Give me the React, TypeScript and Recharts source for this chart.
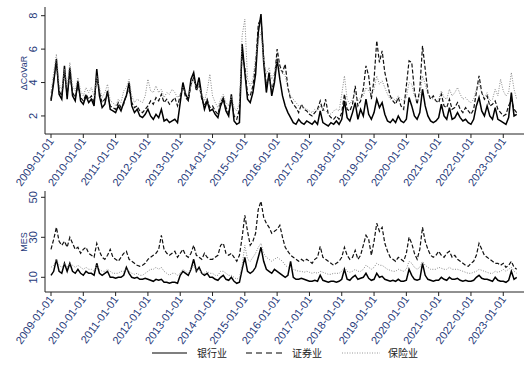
import { LineChart, Line, XAxis, YAxis } from "recharts"

// monthly samples, 2009-01 .. 2023-06
const startYear = 2009
const nMonths = 174

const cvBank = [
  2.9, 4.0, 5.4, 3.3, 3.0, 5.0, 3.0, 4.9, 3.2, 2.9, 4.1, 2.9,
  2.7, 3.2, 2.8, 3.0, 2.6, 4.8, 3.2, 2.5, 2.7, 3.5, 2.4, 2.3,
  2.2, 2.6, 2.3, 2.8, 3.2, 4.0, 2.6, 2.2, 2.4, 2.0, 1.9, 2.1,
  2.4, 2.0, 1.8, 2.1, 1.9, 2.4, 1.7, 1.8, 1.6, 1.7, 1.8, 1.6,
  2.8, 4.0, 3.3, 3.0, 4.2, 4.6, 3.6, 4.3, 3.2, 2.4, 2.9, 2.3,
  2.4, 2.1, 1.9, 2.6, 3.0, 2.3, 2.0, 3.3, 1.7, 1.5, 1.6, 6.3,
  4.6, 3.0, 2.8, 3.4, 4.5, 7.0, 8.1, 5.2, 3.4, 4.6, 3.2, 4.0,
  5.4, 4.2, 3.2, 2.6, 2.2, 1.9, 1.6, 1.5, 1.8, 1.6, 1.5, 1.7,
  1.6, 1.5, 1.7, 1.5, 2.3, 1.6, 1.5, 1.4, 1.6, 1.5, 1.7, 1.5,
  1.8, 2.9, 1.9, 1.7, 2.2, 2.8, 1.8, 2.4, 2.0, 3.0, 2.1, 1.8,
  2.2, 3.0, 2.5, 2.8, 2.1, 1.7, 1.6, 1.8, 1.6, 2.0, 1.7, 1.6,
  1.8, 3.1, 2.6, 2.0, 1.8, 2.2, 3.6, 2.6, 2.0, 1.7, 1.6, 1.7,
  1.9, 2.7, 2.0, 1.8, 2.5, 1.8, 1.9, 2.2, 1.9, 1.7, 1.8, 1.6,
  1.5, 1.8, 2.6, 3.1, 2.3, 2.0, 2.6, 2.0, 1.8, 2.5, 1.8, 1.7,
  1.6, 1.5, 1.9, 3.4, 2.0, 2.1,
]

const cvSec = [
  3.0, 4.2, 5.2, 3.5, 3.2, 4.6, 3.3, 4.5, 3.4, 3.1, 3.8, 3.1,
  2.9, 3.3, 3.0, 3.2, 2.8, 4.4, 3.4, 2.8, 3.0, 3.3, 2.6, 2.5,
  2.4, 2.8, 2.5, 2.7, 3.3, 3.6, 2.8, 2.5, 2.6, 2.3, 2.2, 2.4,
  2.6, 2.9, 2.7, 3.1, 2.9, 3.3, 2.8, 3.0, 2.7, 2.9, 3.1, 2.6,
  3.2, 3.8, 3.1, 2.9, 3.9, 4.3, 3.5, 3.9, 3.0, 2.6, 3.0, 2.5,
  2.6, 2.3, 2.1, 2.8, 3.1, 2.5, 2.2, 3.0, 2.0, 1.8, 2.4, 5.8,
  4.9, 3.3, 3.2, 3.8, 5.0, 7.5, 7.8, 5.5, 3.8, 4.4, 3.5, 4.2,
  6.0, 5.0, 4.6, 5.1, 3.7, 3.0, 2.7, 2.5, 2.2, 2.7, 2.4, 2.3,
  2.1, 2.0, 2.2, 2.4, 2.9, 2.3, 3.0, 2.1, 1.9, 1.8, 2.0, 1.8,
  2.2, 3.3, 2.4, 2.3, 2.7, 3.8, 2.6, 2.9, 3.6, 5.0, 4.4, 3.0,
  4.2, 6.5, 5.2, 5.9, 4.6, 3.9, 3.2, 2.9, 2.7, 3.1, 2.6, 2.4,
  3.8, 5.3, 5.2, 3.5, 2.7, 3.6, 6.2, 4.8, 3.4, 3.0, 3.2, 2.9,
  2.8, 3.3, 2.6, 2.5, 3.0, 2.4, 2.5, 2.8, 2.4, 2.2, 2.5, 2.3,
  2.1, 2.4, 3.4, 4.4, 3.4, 3.0, 3.2, 2.6, 2.7, 2.9, 2.4, 2.2,
  2.0, 2.1, 2.6, 3.0, 2.4, 2.2,
]

const cvIns = [
  3.4, 4.6, 5.7, 3.9, 3.6, 4.8, 3.7, 5.2, 3.8, 3.5, 4.3, 3.5,
  3.2, 3.7, 3.4, 3.7, 3.2, 4.4, 3.7, 3.1, 3.4, 3.9, 2.9, 2.8,
  2.6, 3.0, 2.8, 3.5, 3.7, 4.2, 3.2, 2.8, 3.0, 2.9, 2.8, 3.2,
  4.2, 3.5, 3.4, 3.8, 3.4, 3.6, 3.1, 3.4, 3.3, 3.6, 3.4, 3.1,
  3.3, 3.7, 3.4, 3.1, 3.8, 4.2, 3.6, 3.8, 3.3, 2.9, 3.5, 4.5,
  3.2, 2.8, 2.5, 3.0, 3.3, 2.8, 2.6, 3.2, 2.5, 2.3, 2.8, 6.8,
  7.8, 4.2, 3.8, 4.2, 5.5, 6.5, 7.0, 5.3, 4.5, 4.9, 4.2, 4.6,
  5.5, 4.8, 4.6, 4.4, 3.6, 3.2, 3.0, 2.8, 2.6, 2.6, 2.5, 2.4,
  2.3, 2.2, 2.4, 2.3, 2.6, 2.4, 2.3, 2.2, 2.1, 2.3, 2.4, 2.3,
  3.3, 4.4, 3.0, 2.7, 3.0, 3.4, 2.9, 3.1, 3.2, 3.7, 3.5, 3.3,
  3.6, 4.4, 3.9, 4.1, 3.7, 3.3, 3.0, 3.1, 2.9, 3.2, 3.0, 2.9,
  3.1, 4.0, 3.9, 3.2, 2.9, 3.2, 4.4, 3.9, 3.3, 3.1, 3.0, 2.9,
  3.0, 3.5, 3.1, 3.0, 3.6, 3.2, 3.4, 3.7, 3.3, 3.0, 3.1, 2.9,
  2.8, 3.0, 3.6, 3.9, 3.4, 3.1, 3.4, 2.9, 3.0, 3.6, 3.2, 4.2,
  3.5, 3.2, 3.4, 4.6, 3.6, 3.0,
]

const mesBank = [
  11, 13, 19, 13, 12, 17, 13, 17, 13, 12, 14, 12,
  11, 13, 12, 12, 11, 17, 12, 11, 12, 13, 10, 10,
  9.5, 10, 10, 11, 15, 12, 10, 9.5, 10, 9, 9, 9.5,
  9, 8.5, 8, 9, 8.5, 9, 7.5, 7.5, 7, 7.5, 7.5, 7,
  11, 13, 12, 11, 14, 19, 13, 15, 12, 11, 12, 10,
  10, 9, 8.5, 10, 11, 9, 8.5, 10, 8, 7, 7.5, 14,
  20, 13, 12, 13, 15, 20, 25, 18, 14, 13, 12, 14,
  13, 12, 11, 10, 11, 18, 10, 9, 9, 9.5, 9, 8.5,
  8, 8, 8.5, 8, 11, 8.5, 8, 7.5, 8, 8, 7.5, 8,
  9, 14, 9, 8.5, 10, 11, 9, 9.5, 10, 12, 9.5, 8.5,
  9, 12, 10, 10.5, 9, 8.5, 8, 8.5, 8, 9, 8, 8,
  8.5, 14, 11, 9, 8.5, 9, 17, 11, 9, 8.5, 8, 8.5,
  8.5, 10, 9, 8.5, 10, 9, 9, 9.5, 8.5, 8, 8.5, 8,
  8, 8.5, 10, 11, 9.5, 9, 9, 8.5, 8, 10, 8.5, 8,
  8, 7.5, 8.5, 13, 9, 10,
]

const mesSec = [
  24, 29, 35, 28, 26, 28, 25, 30, 27, 24, 25, 22,
  24, 25, 22, 21, 20, 27, 23, 20, 19, 21, 24, 20,
  19, 18, 20, 22, 23, 19, 18, 17, 16, 15.5, 16, 17,
  19, 20, 21, 22, 24, 31, 24, 22, 21, 22, 23, 20,
  22, 24, 21, 20, 22, 26, 21, 20, 19, 22, 20, 19,
  19, 20, 21, 26, 27, 22, 21, 22, 20, 18, 21, 30,
  41, 33, 26, 28, 32, 44, 48, 40, 37, 35, 32, 33,
  34, 36, 30, 25, 23, 21, 20, 19, 18, 19, 18, 19,
  18, 17, 19, 20, 25.5, 20, 19, 18, 17, 16, 17, 18,
  20, 25, 21, 19, 20, 23.5, 19, 21, 26, 31, 29, 21,
  28, 37, 33, 35, 27, 23, 20, 19, 18, 20, 19, 18,
  22, 30, 27, 22, 19, 24, 35, 28, 24, 21, 20, 21,
  23, 21, 20, 22, 23, 20, 21, 19, 18, 17, 16, 15.5,
  17, 18, 21, 27, 24, 21, 20, 19, 18, 17, 17, 16,
  17, 15, 16, 18, 15, 14,
]

const mesIns = [
  15, 16, 19, 16, 15, 17, 15, 17, 16, 15, 16, 15,
  14, 15, 14, 14, 13, 16, 14, 13, 13, 14, 13, 12,
  12, 12, 13, 13, 14, 13, 12, 11.5, 12, 11, 11, 12,
  13, 14, 14, 15, 14, 15, 13, 12, 11, 12, 12, 11,
  12, 14, 13, 12, 14, 16, 13, 14, 12, 12, 13, 12,
  12, 11, 11, 13, 13, 12, 11, 11, 10, 9, 10, 16,
  26, 19, 18, 20, 22, 25, 27, 22, 20, 19, 18, 19,
  20, 19, 18, 16, 15, 15, 14, 13.5, 13, 13, 12.5, 13,
  12.5, 12, 12.5, 12, 13, 12.5, 12, 11.5, 11.5, 12, 12, 12,
  13, 15, 13, 12.5, 13, 14, 13, 13, 14, 16, 15, 14,
  15, 17, 16, 16, 15, 14, 13.5, 13, 13, 14, 13.5, 13,
  14, 18, 17, 15, 14, 15, 18, 16, 15, 14, 14, 14,
  15, 14.5, 14, 14, 15, 14, 14, 14, 13.5, 13, 12.5, 12,
  12, 12.5, 13, 14, 13.5, 13, 12.5, 12, 12, 13, 12.5, 13,
  14, 13, 14, 15, 13, 12,
]

const yearTicks = [0, 12, 24, 36, 48, 60, 72, 84, 96, 108, 120, 132, 144, 156, 168]
const cvTicks = [2, 4, 6, 8]
const mesTicks = [10, 20, 30, 40, 50]

const cvData = Array.from({ length: nMonths }, (_, t) => ({ t, bank: cvBank[t], sec: cvSec[t], ins: cvIns[t] }))
const mesData = Array.from({ length: nMonths }, (_, t) => ({ t, bank: mesBank[t], sec: mesSec[t], ins: mesIns[t] }))

const FONT = "'Liberation Sans', Arial, sans-serif"
const TXT = "#1f3a7a"
const AX = "#222"
const xDomain = [-2.23, 175.7]

const XTick = (props: any) => {
  const { x, y, payload } = props
  const label = `${startYear + payload.value / 12}-01-01`
  return (
    <text transform={`translate(${x},${y}) rotate(-54)`} textAnchor="end" dy={4} fontSize={11} fontFamily={FONT} fill={TXT}>
      {label}
    </text>
  )
}

const YTick = (props: any) => {
  const { x, y, payload } = props
  return (
    <text transform={`translate(${x - 2},${y}) rotate(-90)`} textAnchor="middle" fontSize={11} fontFamily={FONT} fill={TXT}>
      {payload.value}
    </text>
  )
}

function Panel({ data, height, top, xH, domain, ticks }: any) {
  return (
    <LineChart width={531} height={height} data={data} margin={{ top, right: 7, left: 0, bottom: 0 }}>
      <XAxis
        dataKey="t"
        type="number"
        domain={xDomain}
        ticks={yearTicks}
        allowDataOverflow
        height={xH}
        tickSize={4}
        tickMargin={1}
        stroke={AX}
        tick={<XTick />}
        interval={0}
      />
      <YAxis
        type="number"
        domain={domain}
        ticks={ticks}
        allowDataOverflow
        width={45}
        tickSize={4}
        tickMargin={2}
        stroke={AX}
        tick={<YTick />}
      />
      <Line dataKey="bank" stroke="#000" strokeWidth={1.5} dot={false} isAnimationActive={false} />
      <Line dataKey="sec" stroke="#111" strokeWidth={1.2} strokeDasharray="4 2" dot={false} isAnimationActive={false} />
      <Line dataKey="ins" stroke="#8a8a8a" strokeWidth={1} strokeDasharray="1 1.5" dot={false} isAnimationActive={false} />
    </LineChart>
  )
}

export default function App() {
  return (
    <div style={{ position: "absolute", left: 0, top: 0, width: 531, height: 372, background: "#fff", fontFamily: FONT }}>
      <div style={{ position: "absolute", left: 0, top: 182 }}>
        <Panel data={mesData} height={164} top={9} xH={54} domain={[2.65, 53.15]} ticks={mesTicks} />
      </div>
      <div style={{ position: "absolute", left: 0, top: 0 }}>
        <Panel data={cvData} height={192} top={7} xH={58} domain={[0.92, 8.52]} ticks={cvTicks} />
      </div>
      <svg width={531} height={372} style={{ position: "absolute", left: 0, top: 0, pointerEvents: "none" }}>
        <text transform="translate(27,73) rotate(-90)" textAnchor="middle" fontSize={9} fontFamily={FONT} fill={TXT}>ΔCoVaR</text>
        <text transform="translate(27,242) rotate(-90)" textAnchor="middle" fontSize={9} fontFamily={FONT} fill={TXT}>MES</text>
        <g fontFamily="'Noto Sans CJK SC', sans-serif" fontSize={10} fill="#222">
          <line x1={152} x2={187} y1={353} y2={353} stroke="#000" strokeWidth={1.2} />
          <text x={197} y={357}>银行业</text>
          <line x1={246} x2={283} y1={353} y2={353} stroke="#000" strokeWidth={1.2} strokeDasharray="6 4" />
          <text x={292} y={357}>证券业</text>
          <line x1={342} x2={380} y1={353} y2={353} stroke="#999" strokeWidth={1} strokeDasharray="1 1.5" />
          <text x={388} y={357}>保险业</text>
        </g>
      </svg>
    </div>
  )
}
